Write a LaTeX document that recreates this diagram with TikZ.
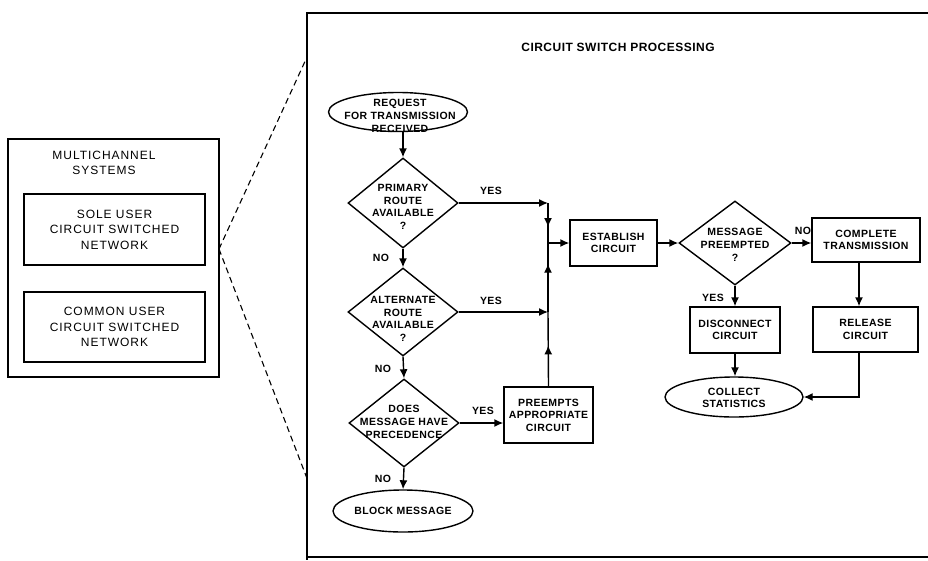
\documentclass[tikz,border=0pt]{standalone}
\usepackage{fontspec}
\setmainfont{Liberation Sans}
\newfontfamily\flowfont[LetterSpace=4]{Liberation Sans}
\newfontfamily\sidefont[LetterSpace=8]{Liberation Sans}
\usetikzlibrary{arrows.meta,shapes.geometric,decorations.markings,calc}
\begin{document}
\begin{tikzpicture}[x=1pt,y=-1pt,
  lw/.style={line width=1.4pt},
  arr/.style={lw,-{Latex[length=9pt,width=8pt]}},
  midup/.style={lw,postaction={decorate},decoration={markings,mark=at position #1 with {\arrow{Latex[length=9pt,width=8pt]}}}},
  box/.style={draw,lw,inner sep=0pt,align=center,font=\flowfont\bfseries\fontsize{10.5}{12.5}\selectfont},
  sidebox/.style={draw,lw,inner sep=0pt,align=center,font=\sidefont\fontsize{12}{15.5}\selectfont},
  dia/.style={draw,diamond,lw,inner sep=0pt},
  ell/.style={draw,ellipse,lw,inner sep=0pt},
  lbl/.style={inner sep=0pt,align=center,font=\flowfont\bfseries\fontsize{10.5}{12.7}\selectfont},
  yn/.style={inner sep=0pt,font=\flowfont\bfseries\fontsize{10.5}{12}\selectfont},
  dashline/.style={line width=1.1pt, dash pattern=on 6pt off 4pt}
]
\useasboundingbox (0,0) rectangle (928,560);

% ---------- left side ----------
\node[draw,lw,minimum width=211pt,minimum height=238pt,inner sep=0pt] (multi) at (113.5,258) {};
\node[inner sep=0pt,align=center,font=\sidefont\fontsize{12}{15}\selectfont] (multit) at (104,163) {MULTICHANNEL\\SYSTEMS};
\node[sidebox,minimum width=181pt,minimum height=71pt] (sole) at (114.5,229.5) {SOLE USER\\CIRCUIT SWITCHED\\NETWORK};
\node[sidebox,minimum width=181pt,minimum height=70pt] (common) at (114.5,327) {COMMON USER\\CIRCUIT SWITCHED\\NETWORK};

% ---------- frame ----------
\coordinate (ftl) at (307,13);
\coordinate (ftr) at (928,13);
\coordinate (fbl) at (307,560);
\coordinate (bbl) at (307,557);
\coordinate (bbr) at (928,557);
\draw[lw] (ftr) -- (ftl) -- (fbl);
\draw[lw] (bbl) -- (bbr);
\coordinate (mz) at (219,249);
\coordinate (fa) at (307,57);
\coordinate (fb) at (308,481);
\draw[dashline] (mz) -- (fa);
\draw[dashline] (mz) -- (fb);

\node[inner sep=0pt,font=\flowfont\bfseries\fontsize{12}{14}\selectfont] (title) at (618,47) {CIRCUIT SWITCH PROCESSING};

% ---------- flow nodes ----------
\node[ell,minimum width=139pt,minimum height=39pt] (req) at (398,112) {};
\node[lbl] (reqt) at (400,116) {REQUEST\\FOR TRANSMISSION\\RECEIVED};

\node[dia,minimum width=110pt,minimum height=90pt] (prim) at (403,203) {};
\node[lbl] (primt) at (403,207) {PRIMARY\\ROUTE\\AVAILABLE\\?};

\node[dia,minimum width=110pt,minimum height=88pt] (alt) at (403,312) {};
\node[lbl] (altt) at (403,319) {ALTERNATE\\ROUTE\\AVAILABLE\\?};

\node[dia,minimum width=110pt,minimum height=88pt] (does) at (404,423) {};
\node[lbl] (doest) at (404,422) {DOES\\MESSAGE HAVE\\PRECEDENCE};

\node[ell,minimum width=140pt,minimum height=42pt] (block) at (403,511) {};
\node[lbl] (blockt) at (403,511) {BLOCK MESSAGE};

\node[box,minimum width=89pt,minimum height=56pt] (pre) at (548.5,415) {PREEMPTS\\APPROPRIATE\\CIRCUIT};

\node[box,minimum width=87pt,minimum height=46pt] (est) at (613.5,243) {ESTABLISH\\CIRCUIT};

\node[dia,minimum width=112pt,minimum height=84pt] (msg) at (735,243) {};
\node[lbl] (msgt) at (735,245) {MESSAGE\\PREEMPTED\\?};

\node[box,minimum width=108pt,minimum height=44pt] (comp) at (866,240) {COMPLETE\\TRANSMISSION};
\node[box,minimum width=90pt,minimum height=46pt] (disc) at (735,330) {DISCONNECT\\CIRCUIT};
\node[box,minimum width=105pt,minimum height=45pt] (rel) at (865.5,329.5) {RELEASE\\CIRCUIT};

\node[ell,minimum width=138pt,minimum height=40pt] (col) at (734,397) {};
\node[lbl] (colt) at (734,398) {COLLECT\\STATISTICS};

% ---------- connectors ----------
\coordinate (vx) at (548,0);
\coordinate (j1) at (vx |- prim.east);
\coordinate (j2) at (vx |- est.west);
\coordinate (j3) at (vx |- alt.east);
\coordinate (cx) at (859,0);

\draw[arr] (prim.north |- req.south) -- (prim.north);
\draw[arr] (prim.east) -- (j1);
\draw[midup=0.6] (j1) -- (j2);
\draw[arr] (j2) -- (est.west);
\draw[arr] (alt.east) -- (j3);
\draw[midup=0.7] (j3) -- (j2);
\draw[midup=0.55] (pre.north) -- (j3);
\draw[arr] (prim.south) -- (alt.north);
\draw[arr] (alt.south) -- (does.north);
\draw[arr] (does.east) -- (does.east -| pre.west);
\draw[arr] (does.south) -- (block.north);
\draw[arr] (est.east) -- (msg.west);
\draw[arr] (msg.east) -- (msg.east -| comp.west);
\draw[arr] (msg.south) -- (disc.north);
\draw[arr] (comp.south -| cx) -- (rel.north -| cx);
\draw[arr] (rel.south -| cx) |- (col.east);
\draw[arr] (disc.south) -- (disc.south |- col.north);

% ---------- yes / no labels ----------
\node[yn] (y1) at (491,191) {YES};
\node[yn] (n1) at (381,258) {NO};
\node[yn] (y2) at (491,301) {YES};
\node[yn] (n2) at (383,369) {NO};
\node[yn] (y3) at (483,411) {YES};
\node[yn] (n3) at (383,479) {NO};
\node[yn] (n4) at (803,231) {NO};
\node[yn] (y4) at (713,298) {YES};
\end{tikzpicture}
\end{document}
